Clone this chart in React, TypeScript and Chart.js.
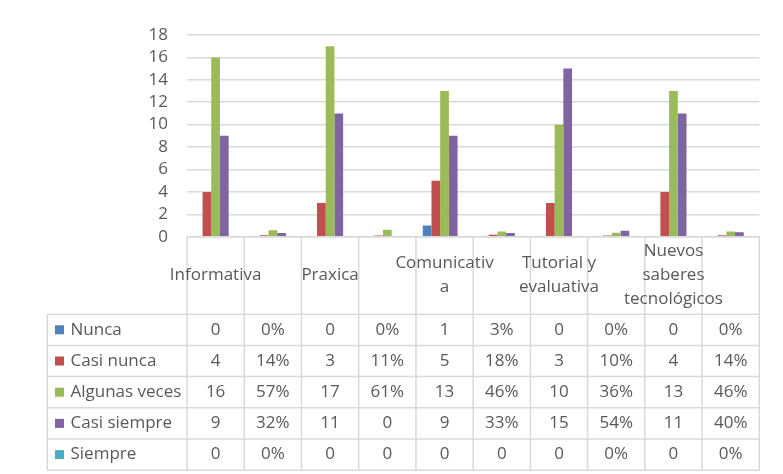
import React, { useEffect, useRef } from "react";
import { Chart, registerables } from "chart.js";

Chart.register(...registerables);

const categories: string[][] = [
  ["Informativa"], [""], ["Praxica"], [""], ["Comunicativ", "a"], [""],
  ["Tutorial y", "evaluativa"], [""], ["Nuevos", "saberes", "tecnológicos"], [""],
];

const seriesNames = ["Nunca", "Casi nunca", "Algunas veces", "Casi siempre", "Siempre"];
const seriesColors = ["#4F81BD", "#C0504D", "#9BBB59", "#8064A2", "#4BACC6"];

const nunca = ["0", "0%", "0", "0%", "1", "3%", "0", "0%", "0", "0%"];
const casiNunca = ["4", "14%", "3", "11%", "5", "18%", "3", "10%", "4", "14%"];
const algunasVeces = ["16", "57%", "17", "61%", "13", "46%", "10", "36%", "13", "46%"];
const casiSiempre = ["9", "32%", "11", "0", "9", "33%", "15", "54%", "11", "40%"];
const siempre = ["0", "0%", "0", "0", "0", "0", "0", "0%", "0", "0%"];

const seriesLabels = [nunca, casiNunca, algunasVeces, casiSiempre, siempre];

const yMin = 0;
const yMax = 18;
const yStep = 2;

const toValue = (s: string) => (s.endsWith("%") ? parseFloat(s) / 100 : parseFloat(s));

const FONT = "'Open Sans'";
const FSIZE = 17;
const TEXT = "#595959";
const LINE = "#D9D9D9";

const tablePlugin = {
  id: "dataTable",
  afterDraw(chart: any) {
    const ctx = chart.ctx as CanvasRenderingContext2D;
    const area = chart.chartArea;
    const n = categories.length;
    const colW = (area.right - area.left) / n;
    const top = area.bottom;
    const headerH = 77.5;
    const rowH = 31.2;
    const leftX = 47.3;
    const headerBottom = top + headerH;
    const bottom = headerBottom + rowH * seriesNames.length;

    ctx.save();
    ctx.strokeStyle = LINE;
    ctx.lineWidth = 1.5;
    ctx.beginPath();
    ctx.moveTo(area.left, top);
    ctx.lineTo(area.right, top);
    for (let k = 0; k <= seriesNames.length; k++) {
      const y = headerBottom + k * rowH;
      ctx.moveTo(leftX, y);
      ctx.lineTo(area.right, y);
    }
    for (let i = 0; i <= n; i++) {
      const x = area.left + i * colW;
      ctx.moveTo(x, top);
      ctx.lineTo(x, bottom);
    }
    ctx.moveTo(leftX, headerBottom);
    ctx.lineTo(leftX, bottom);
    ctx.stroke();

    ctx.fillStyle = TEXT;
    ctx.font = `${FSIZE}px ${FONT}`;
    ctx.textAlign = "center";
    ctx.textBaseline = "middle";
    const xs = chart.scales.x;
    const lineH = 24;
    categories.forEach((lines, i) => {
      const cx = xs.getPixelForValue(i);
      const cy = top + headerH / 2;
      const start = cy - ((lines.length - 1) * lineH) / 2;
      lines.forEach((t, j) => ctx.fillText(t, cx, start + j * lineH));
    });

    seriesNames.forEach((name, r) => {
      const cy = headerBottom + r * rowH + rowH / 2;
      ctx.fillStyle = seriesColors[r];
      ctx.fillRect(55, cy - 4.5, 9, 9);
      ctx.fillStyle = TEXT;
      ctx.textAlign = "left";
      ctx.fillText(name, 70.5, cy);
      ctx.textAlign = "center";
      seriesLabels[r].forEach((t, i) => {
        ctx.fillText(t, xs.getPixelForValue(i), cy);
      });
    });
    ctx.restore();
  },
};

export default function App() {
  const ref = useRef<HTMLCanvasElement>(null);
  useEffect(() => {
    if (!ref.current) return;
    const chart = new Chart(ref.current, {
      type: "bar",
      data: {
        labels: categories.map((c) => c.join(" ")),
        datasets: seriesNames.map((name, k) => ({
          label: name,
          data: seriesLabels[k].map(toValue),
          backgroundColor: seriesColors[k],
          borderWidth: 0,
          categoryPercentage: 0.76,
          barPercentage: 1.0,
        })),
      },
      options: {
        responsive: false,
        animation: false,
        devicePixelRatio: 1,
        layout: { padding: { left: 0, right: 23.7, top: 35, bottom: 237.3 } },
        plugins: { legend: { display: false }, tooltip: { enabled: false } },
        scales: {
          x: { display: false },
          y: {
            min: yMin,
            max: yMax,
            ticks: {
              stepSize: yStep,
              autoSkip: false,
              color: TEXT,
              font: { family: FONT, size: FSIZE },
              padding: 19,
            },
            grid: { color: LINE, lineWidth: 1.5, drawTicks: false },
            border: { display: false },
            afterFit: (s: any) => {
              s.width = 187;
            },
          },
        },
      },
      plugins: [tablePlugin],
    });
    return () => chart.destroy();
  }, []);
  return (
    <div style={{ position: "absolute", left: 0, top: 0, width: 783, height: 474, background: "#fff" }}>
      <canvas ref={ref} width={783} height={474} />
    </div>
  );
}
